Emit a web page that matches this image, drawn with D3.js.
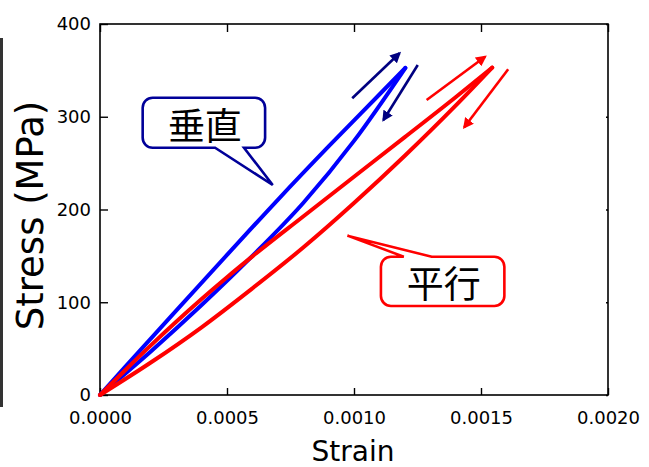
<!DOCTYPE html>
<html>
<head>
<meta charset="utf-8">
<script src="https://cdn.jsdelivr.net/npm/d3@7"></script>
<style>
  body { margin: 0; background: #fff; }
  svg { display: block; }
</style>
</head>
<body>
<div id="chart"></div>
<script>
// strain / stress (MPa)
const xTicks = [0, 0.0005, 0.0010, 0.0015, 0.0020];
const yTicks = [0, 100, 200, 300, 400];

const perpUpStrain = [0, 0.0001, 0.0003, 0.0005, 0.0007, 0.0009, 0.0011, 0.001202];
const perpUpStress = [0, 30.5, 91, 151, 210.5, 268, 324, 352.6];
const perpDownStrain = [0.001202, 0.0010, 0.0008, 0.0006, 0.0004, 0.0002, 0];
const perpDownStress = [352.6, 274, 207, 150, 97, 47, 0];

const paraUpStrain = [0, 0.0001, 0.0002, 0.0003, 0.0004, 0.0005, 0.0006, 0.0008, 0.0010, 0.0012, 0.0014, 0.001544];
const paraUpStress = [0, 27, 53.5, 79, 103.5, 127, 149.5, 192.5, 235.3, 278, 321, 353];
const paraDownStrain = [0.001544, 0.0014, 0.0012, 0.0010, 0.0008, 0.0006, 0.0004, 0.0002, 0];
const paraDownStress = [353, 312, 258, 207, 159, 115, 73, 35, 0];

// direction arrows: [x1, y1, x2, y2] in data units
const perpArrows = [[0.000993, 319.9, 0.001179, 368.4], [0.001251, 355.8, 0.001116, 296.5]];
const paraArrows = [[0.001286, 318.1, 0.001516, 364.7], [0.001607, 351.2, 0.001434, 288.6]];

const width = 649, height = 467;
const margin = { left: 100, top: 24, right: 41, bottom: 72 };

const svg = d3.select("#chart").append("svg")
    .attr("width", width)
    .attr("height", height);

const x = d3.scaleLinear().domain([0, 0.002]).range([margin.left, width - margin.right]);
const y = d3.scaleLinear().domain([0, 400]).range([height - margin.bottom, margin.top]);

// dark strip on the left edge of the original picture
svg.append("rect").attr("x", 0).attr("y", 38).attr("width", 3).attr("height", 369).attr("fill", "#333");

const defs = svg.append("defs");
[["headNavy", "#000080"], ["headRed", "#ff0000"]].forEach(([id, c]) => {
    defs.append("marker")
        .attr("id", id)
        .attr("viewBox", "0 0 10 10")
        .attr("refX", 8).attr("refY", 5)
        .attr("markerWidth", 4.2).attr("markerHeight", 4.2)
        .attr("markerUnits", "strokeWidth")
        .attr("orient", "auto")
        .append("path").attr("d", "M0,0 L10,5 L0,10 Z").attr("fill", c);
});

// frame
svg.append("rect")
    .attr("x", x(0)).attr("y", y(400))
    .attr("width", x(0.002) - x(0)).attr("height", y(0) - y(400))
    .attr("fill", "none").attr("stroke", "#000").attr("stroke-width", 1.6);

const tickFont = "DejaVu Sans, sans-serif";

svg.append("g")
    .attr("transform", `translate(0,${y(0)})`)
    .call(d3.axisBottom(x).tickValues(xTicks).tickFormat(d3.format(".4f")).tickSizeInner(-7).tickSizeOuter(0).tickPadding(12))
    .call(g => g.select(".domain").remove())
    .call(g => g.selectAll("line").attr("stroke-width", 1.4))
    .call(g => g.selectAll("text").attr("font-family", tickFont).attr("font-size", 18).attr("fill", "#000").attr("dy", "0.95em"));

svg.append("g")
    .attr("transform", `translate(${x(0)},0)`)
    .call(d3.axisLeft(y).tickValues(yTicks).tickSizeInner(-8).tickSizeOuter(0).tickPadding(9))
    .call(g => g.select(".domain").remove())
    .call(g => g.selectAll("line").attr("stroke-width", 1.4))
    .call(g => g.selectAll("text").attr("font-family", tickFont).attr("font-size", 18).attr("fill", "#000"));

svg.append("g")
    .attr("transform", `translate(0,${y(400)})`)
    .call(d3.axisTop(x).tickValues(xTicks).tickSizeInner(-8).tickSizeOuter(0).tickFormat(""))
    .call(g => g.select(".domain").remove())
    .call(g => g.selectAll("line").attr("stroke-width", 1.4));

svg.append("g")
    .attr("transform", `translate(${x(0.002)},0)`)
    .call(d3.axisRight(y).tickValues(yTicks).tickSizeInner(-2).tickSizeOuter(0).tickFormat(""))
    .call(g => g.select(".domain").remove())
    .call(g => g.selectAll("line").attr("stroke-width", 1.4));

// axis titles
svg.append("text")
    .attr("x", (x(0) + x(0.002)) / 2 - 1).attr("y", 461)
    .attr("text-anchor", "middle")
    .attr("font-family", tickFont).attr("font-size", 28)
    .text("Strain");

svg.append("text")
    .attr("transform", `translate(43,${(y(0) + y(400)) / 2 + 6}) rotate(-90)`)
    .attr("text-anchor", "middle")
    .attr("font-family", tickFont).attr("font-size", 37)
    .text("Stress (MPa)");

// curves
const line = d3.line().x(d => x(d[0])).y(d => y(d[1])).curve(d3.curveMonotoneX);
function drawLoop(upX, upY, downX, downY, color) {
    const up = upX.map((v, i) => [v, upY[i]]);
    const down = downX.map((v, i) => [v, downY[i]]).reverse();
    [up, down].forEach(pts => {
        svg.append("path")
            .attr("d", line(pts))
            .attr("fill", "none")
            .attr("stroke", color)
            .attr("stroke-width", 4)
            .attr("stroke-linecap", "round")
            .attr("stroke-linejoin", "round");
    });
}
drawLoop(perpUpStrain, perpUpStress, perpDownStrain, perpDownStress, "#0000ff");
drawLoop(paraUpStrain, paraUpStress, paraDownStrain, paraDownStress, "#ff0000");

function drawArrows(list, color, marker) {
    svg.selectAll(null).data(list).enter().append("line")
        .attr("x1", d => x(d[0])).attr("y1", d => y(d[1]))
        .attr("x2", d => x(d[2])).attr("y2", d => y(d[3]))
        .attr("stroke", color).attr("stroke-width", 2.6)
        .attr("marker-end", `url(#${marker})`);
}
drawArrows(perpArrows, "#000080", "headNavy");
drawArrows(paraArrows, "#ff0000", "headRed");

// callouts: box [x0, x1, yTop, yBottom], tip, pointer base on one edge
function callout(box, tip, base, edge, label, color) {
    const x0 = x(box[0]), x1 = x(box[1]), t = y(box[2]), b = y(box[3]), r = 10;
    const bx0 = x(base[0]), bx1 = x(base[1]);
    const tx = x(tip[0]), ty = y(tip[1]);
    let p = d3.path();
    p.moveTo(x0 + r, t);
    if (edge === "top") { p.lineTo(bx0, t); p.lineTo(tx, ty); p.lineTo(bx1, t); }
    p.lineTo(x1 - r, t);
    p.arcTo(x1, t, x1, t + r, r);
    p.lineTo(x1, b - r);
    p.arcTo(x1, b, x1 - r, b, r);
    if (edge === "bottom") { p.lineTo(bx1, b); p.lineTo(tx, ty); p.lineTo(bx0, b); }
    p.lineTo(x0 + r, b);
    p.arcTo(x0, b, x0, b - r, r);
    p.lineTo(x0, t + r);
    p.arcTo(x0, t, x0 + r, t, r);
    p.closePath();
    svg.append("path").attr("d", p.toString())
        .attr("fill", "#fff").attr("stroke", color).attr("stroke-width", 2.6)
        .attr("stroke-linejoin", "miter");
    svg.append("text")
        .attr("x", (x0 + x1) / 2 + 1).attr("y", (t + b) / 2 + 1)
        .attr("text-anchor", "middle").attr("dominant-baseline", "central")
        .attr("font-family", "Noto Sans CJK JP, sans-serif").attr("font-size", 37)
        .attr("fill", "#000")
        .text(label);
}
callout([0.000168, 0.000650, 320.5, 266.6], [0.000680, 226.4], [0.000453, 0.000567], "bottom", "垂直", "#000099");
callout([0.001106, 0.001592, 149.1, 96.0], [0.000974, 171.8], [0.001196, 0.001306], "top", "平行", "#ff0000");
</script>
</body>
</html>
